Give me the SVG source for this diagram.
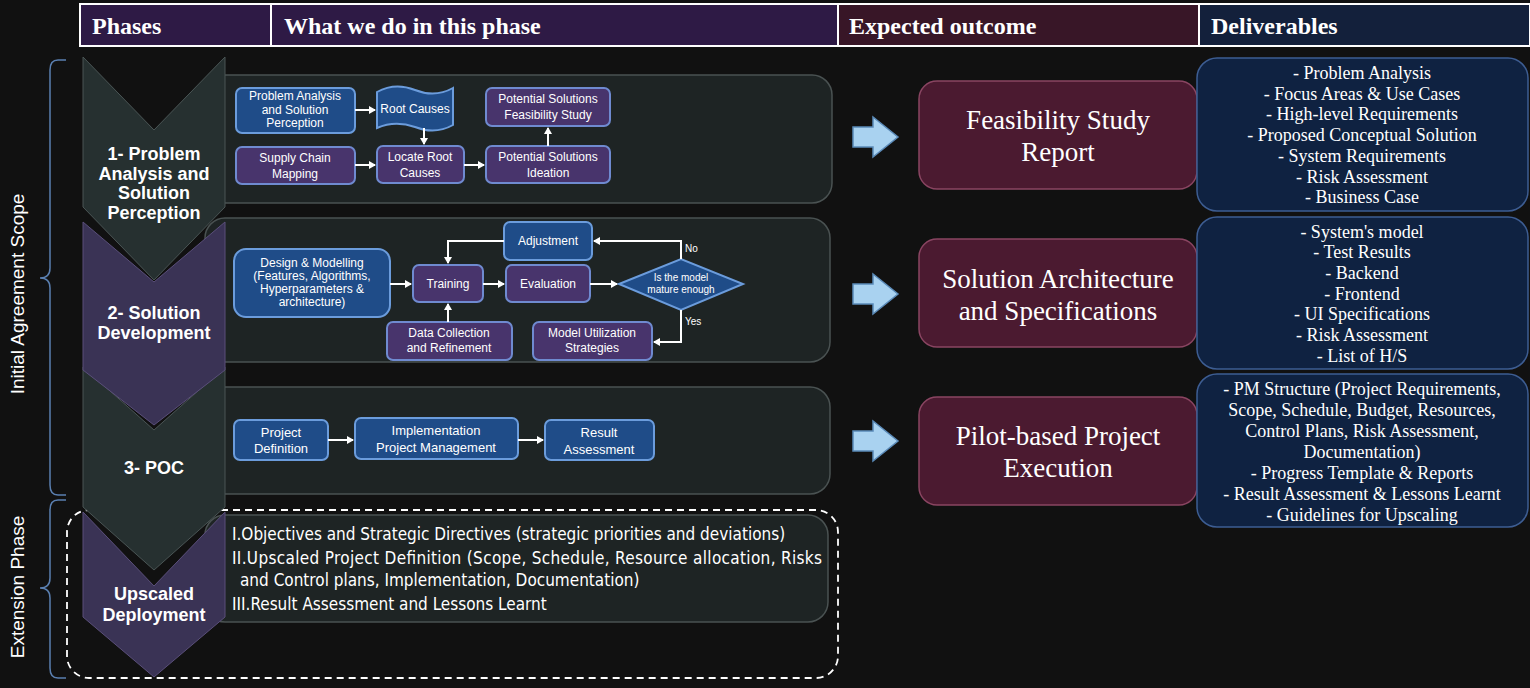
<svg xmlns="http://www.w3.org/2000/svg" width="1530" height="688" viewBox="0 0 1530 688">
<defs>
<style>
.hd{font-family:"Liberation Serif",serif;font-weight:bold;font-size:24px;fill:#fff}
.ph{font-family:"Liberation Sans Narrow","Liberation Sans",sans-serif;font-weight:bold;font-size:18px;fill:#fff;text-anchor:middle}
.sm{font-family:"Liberation Sans Narrow","Liberation Sans",sans-serif;font-size:12px;fill:#fff;text-anchor:middle}
.pn{fill:#1e2424;stroke:#4a5252;stroke-width:1.5}
.bl{fill:#1f4c88;stroke:#6b9cdc;stroke-width:2}
.pu{fill:#48346c;stroke:#6f8ad0;stroke-width:2}
.oc{fill:#4b1a30;stroke:#8a4562;stroke-width:1.5}
.oct{font-family:"Liberation Serif",serif;font-size:27px;fill:#fff;text-anchor:middle}
.dv{fill:#0f2241;stroke:#3d5d92;stroke-width:1.5}
.dvt{font-family:"Liberation Serif",serif;font-size:18px;fill:#fff;text-anchor:middle}
.cn{fill:none;stroke:#fff;stroke-width:2}
.br{fill:none;stroke:#5a7fb0;stroke-width:1.5}
.side{font-family:"Liberation Sans",sans-serif;font-size:19px;fill:#fff;text-anchor:middle}
.pt{font-family:"Liberation Sans Narrow","DejaVu Sans Condensed","Liberation Sans",sans-serif;font-size:17px;fill:#fff}
</style>
<marker id="ah" markerWidth="8" markerHeight="8" refX="6" refY="4" orient="auto" markerUnits="userSpaceOnUse"><path d="M0,0 L7,4 L0,8 z" fill="#fff"/></marker>
<path id="barrow" d="M0,-10 H20 V-20 L45,0 L20,20 V10 H0 Z"/>
</defs>
<rect width="1530" height="688" fill="#111111"/>

<g id="header">
<rect x="80" y="4" width="758" height="42" fill="#2e1a45" stroke="#fff" stroke-width="2"/>
<line x1="271" y1="4" x2="271" y2="46" stroke="#fff" stroke-width="2"/>
<rect x="838" y="4" width="361" height="42" fill="#381627" stroke="#fff" stroke-width="2"/>
<rect x="1199" y="4" width="331" height="42" fill="#13203b" stroke="#fff" stroke-width="2"/>
<text class="hd" x="92" y="34">Phases</text>
<text class="hd" x="284" y="34">What we do in this phase</text>
<text class="hd" x="849" y="34">Expected outcome</text>
<text class="hd" x="1211" y="34">Deliverables</text>
</g>

<g id="side-labels">
<path class="br" d="M66,60 H58 Q50,60 50,70 V268 Q50,278 40,278 Q50,278 50,288 V485 Q50,495 58,495 H66"/>
<text class="side" transform="translate(24,294) rotate(-90)">Initial Agreement Scope</text>
<path class="br" d="M66,500 H58 Q50,500 50,510 V578 Q50,588 40,588 Q50,588 50,598 V668 Q50,678 58,678 H66"/>
<text class="side" transform="translate(24,587) rotate(-90)">Extension Phase</text>
</g>

<g id="dashed-box"><rect x="67" y="510" width="771" height="168" rx="22" fill="none" stroke="#fff" stroke-width="1.8" stroke-dasharray="7,5"/></g>

<g id="panels">
<rect class="pn" x="205" y="75" width="627" height="128" rx="20"/>
<rect class="pn" x="205" y="218" width="625" height="144" rx="20"/>
<rect class="pn" x="205" y="387" width="625" height="107" rx="20"/>
<rect class="pn" x="205" y="515" width="623" height="107" rx="20"/>
</g>

<g id="phase4"><path d="M83,512 L154,586 L225,512 V617 L154,677 L83,617 Z" fill="#3a3355" stroke="#5a4f7a"/>
<text class="ph" x="154" y="600">Upscaled</text><text class="ph" x="154" y="621">Deployment</text></g>
<g id="phase3"><path d="M83,367 L154,430 L225,367 V507 L154,570 L83,507 Z" fill="#263030" stroke="#4a5555"/>
<text class="ph" x="154" y="474">3- POC</text></g>
<g id="phase2"><path d="M83,222 L154,282 L225,222 V370 L154,425 L83,370 Z" fill="#3a3355" stroke="#5a4f7a"/>
<text class="ph" x="154" y="319">2- Solution</text><text class="ph" x="154" y="339">Development</text></g>
<g id="phase1"><path d="M83,57 L154,130 L225,57 V207 L154,280 L83,207 Z" fill="#263030" stroke="#4a5555"/>
<text class="ph" x="154" y="160">1- Problem</text><text class="ph" x="154" y="180">Analysis and</text><text class="ph" x="154" y="199">Solution</text><text class="ph" x="154" y="219">Perception</text></g>

<g id="p1-nodes">
<g id="n-pa"><rect class="bl" x="236" y="88" width="119" height="45" rx="6"/><text class="sm" x="295" y="100">Problem Analysis</text><text class="sm" x="295" y="114">and Solution</text><text class="sm" x="295" y="127">Perception</text></g>
<g id="n-rc"><path class="bl" d="M377,92 Q395,82 415,90 Q435,98 453,88 V125 Q435,135 415,127 Q395,120 377,128 Z"/><text class="sm" x="415" y="113">Root Causes</text></g>
<g id="n-psf"><rect class="pu" x="486" y="88" width="124" height="38" rx="6"/><text class="sm" x="548" y="103">Potential Solutions</text><text class="sm" x="548" y="119">Feasibility Study</text></g>
<g id="n-scm"><rect class="pu" x="236" y="147" width="119" height="37" rx="6"/><text class="sm" x="295" y="162">Supply Chain</text><text class="sm" x="295" y="178">Mapping</text></g>
<g id="n-lrc"><rect class="pu" x="377" y="146" width="87" height="37" rx="6"/><text class="sm" x="420" y="161">Locate Root</text><text class="sm" x="420" y="177">Causes</text></g>
<g id="n-psi"><rect class="pu" x="486" y="146" width="124" height="37" rx="6"/><text class="sm" x="548" y="161">Potential Solutions</text><text class="sm" x="548" y="177">Ideation</text></g>
</g>

<g id="p2-nodes">
<g id="n-adj"><rect class="bl" x="504" y="222" width="88" height="38" rx="6"/><text class="sm" x="548" y="245">Adjustment</text></g>
<g id="n-dm"><rect class="bl" x="234" y="249" width="156" height="68" rx="12"/><text class="sm" x="312" y="267">Design &amp; Modelling</text><text class="sm" x="312" y="280">(Features, Algorithms,</text><text class="sm" x="312" y="293">Hyperparameters &amp;</text><text class="sm" x="312" y="306">architecture)</text></g>
<g id="n-tr"><rect class="pu" x="413" y="265" width="70" height="37" rx="6"/><text class="sm" x="448" y="288">Training</text></g>
<g id="n-ev"><rect class="pu" x="506" y="265" width="84" height="37" rx="6"/><text class="sm" x="548" y="288">Evaluation</text></g>
<g id="n-dia"><path class="bl" d="M619,284 L681,259 L743,284 L681,310 Z"/><text class="sm" x="681" y="281" style="font-size:10px">Is the model</text><text class="sm" x="681" y="293" style="font-size:10px">mature enough</text></g>
<g id="n-dc"><rect class="pu" x="387" y="322" width="125" height="38" rx="6"/><text class="sm" x="449" y="337">Data Collection</text><text class="sm" x="449" y="352">and Refinement</text></g>
<g id="n-mu"><rect class="pu" x="533" y="322" width="119" height="38" rx="6"/><text class="sm" x="592" y="337">Model Utilization</text><text class="sm" x="592" y="352">Strategies</text></g>
</g>

<g id="p3-nodes">
<g id="n-pd"><rect class="bl" x="234" y="420" width="94" height="40" rx="6"/><text class="sm" x="281" y="437" style="font-size:13px">Project</text><text class="sm" x="281" y="453" style="font-size:13px">Definition</text></g>
<g id="n-im"><rect class="bl" x="355" y="418" width="163" height="41" rx="6"/><text class="sm" x="436" y="435" style="font-size:13px">Implementation</text><text class="sm" x="436" y="452" style="font-size:13px">Project Management</text></g>
<g id="n-ra"><rect class="bl" x="545" y="420" width="109" height="40" rx="6"/><text class="sm" x="599" y="437" style="font-size:13px">Result</text><text class="sm" x="599" y="454" style="font-size:13px">Assessment</text></g>
</g>

<g id="connectors">
<line class="cn" x1="355" y1="110" x2="375" y2="110" marker-end="url(#ah)"/>
<line class="cn" x1="424" y1="128" x2="424" y2="144" marker-end="url(#ah)"/>
<line class="cn" x1="355" y1="165" x2="375" y2="165" marker-end="url(#ah)"/>
<line class="cn" x1="464" y1="165" x2="484" y2="165" marker-end="url(#ah)"/>
<line class="cn" x1="548" y1="146" x2="548" y2="128" marker-end="url(#ah)"/>
<line class="cn" x1="390" y1="284" x2="411" y2="284" marker-end="url(#ah)"/>
<line class="cn" x1="483" y1="284" x2="504" y2="284" marker-end="url(#ah)"/>
<line class="cn" x1="590" y1="284" x2="617" y2="284" marker-end="url(#ah)"/>
<path class="cn" d="M681,259 V241 H594" marker-end="url(#ah)"/>
<path class="cn" d="M504,241 H448 V263" marker-end="url(#ah)"/>
<line class="cn" x1="448" y1="322" x2="448" y2="304" marker-end="url(#ah)"/>
<path class="cn" d="M681,310 V342 H654" marker-end="url(#ah)"/>
<line class="cn" x1="328" y1="440" x2="353" y2="440" marker-end="url(#ah)"/>
<line class="cn" x1="518" y1="440" x2="543" y2="440" marker-end="url(#ah)"/>
<g fill="#a9d2f0" stroke="#5a8ab8" stroke-width="1.5">
<use href="#barrow" x="853" y="137"/><use href="#barrow" x="853" y="294"/><use href="#barrow" x="853" y="441"/>
</g>
</g>
<text class="sm" x="685" y="252" style="font-size:10px;text-anchor:start">No</text>
<text class="sm" x="685" y="325" style="font-size:10px;text-anchor:start">Yes</text>

<g id="p4-text">
<text class="pt" x="232" y="540">I.Objectives and Strategic Directives (strategic priorities and deviations)</text>
<text class="pt" x="232" y="564" textLength="590" lengthAdjust="spacing">II.Upscaled Project Definition (Scope, Schedule, Resource allocation, Risks</text>
<text class="pt" x="240" y="586">and Control plans, Implementation, Documentation)</text>
<text class="pt" x="232" y="610">III.Result Assessment and Lessons Learnt</text>
</g>

<g id="outcomes">
<g id="o1"><rect class="oc" x="919" y="81" width="278" height="108" rx="18"/><text class="oct" x="1058" y="129">Feasibility Study</text><text class="oct" x="1058" y="161">Report</text></g>
<g id="o2"><rect class="oc" x="919" y="239" width="278" height="108" rx="18"/><text class="oct" x="1058" y="288">Solution Architecture</text><text class="oct" x="1058" y="320">and Specifications</text></g>
<g id="o3"><rect class="oc" x="919" y="397" width="278" height="108" rx="18"/><text class="oct" x="1058" y="445">Pilot-based Project</text><text class="oct" x="1058" y="477">Execution</text></g>
</g>

<g id="deliverables">
<g id="d1"><rect class="dv" x="1197" y="58" width="331" height="153" rx="20"/>
<text class="dvt" x="1362" y="79">- Problem Analysis</text><text class="dvt" x="1362" y="100">- Focus Areas &amp; Use Cases</text><text class="dvt" x="1362" y="120">- High-level Requirements</text><text class="dvt" x="1362" y="141">- Proposed Conceptual Solution</text><text class="dvt" x="1362" y="162">- System Requirements</text><text class="dvt" x="1362" y="183">- Risk Assessment</text><text class="dvt" x="1362" y="203">- Business Case</text></g>
<g id="d2"><rect class="dv" x="1197" y="217" width="331" height="152" rx="20"/>
<text class="dvt" x="1362" y="238">- System's model</text><text class="dvt" x="1362" y="258">- Test Results</text><text class="dvt" x="1362" y="279">- Backend</text><text class="dvt" x="1362" y="300">- Frontend</text><text class="dvt" x="1362" y="320">- UI Specifications</text><text class="dvt" x="1362" y="341">- Risk Assessment</text><text class="dvt" x="1362" y="362">- List of H/S</text></g>
<g id="d3"><rect class="dv" x="1197" y="374" width="331" height="153" rx="20"/>
<text class="dvt" x="1362" y="395">- PM Structure (Project Requirements,</text><text class="dvt" x="1362" y="416">Scope, Schedule, Budget, Resources,</text><text class="dvt" x="1362" y="437">Control Plans, Risk Assessment,</text><text class="dvt" x="1362" y="458">Documentation)</text><text class="dvt" x="1362" y="479">- Progress Template &amp; Reports</text><text class="dvt" x="1362" y="500">- Result Assessment &amp; Lessons Learnt</text><text class="dvt" x="1362" y="521">- Guidelines for Upscaling</text></g>
</g>
</svg>
